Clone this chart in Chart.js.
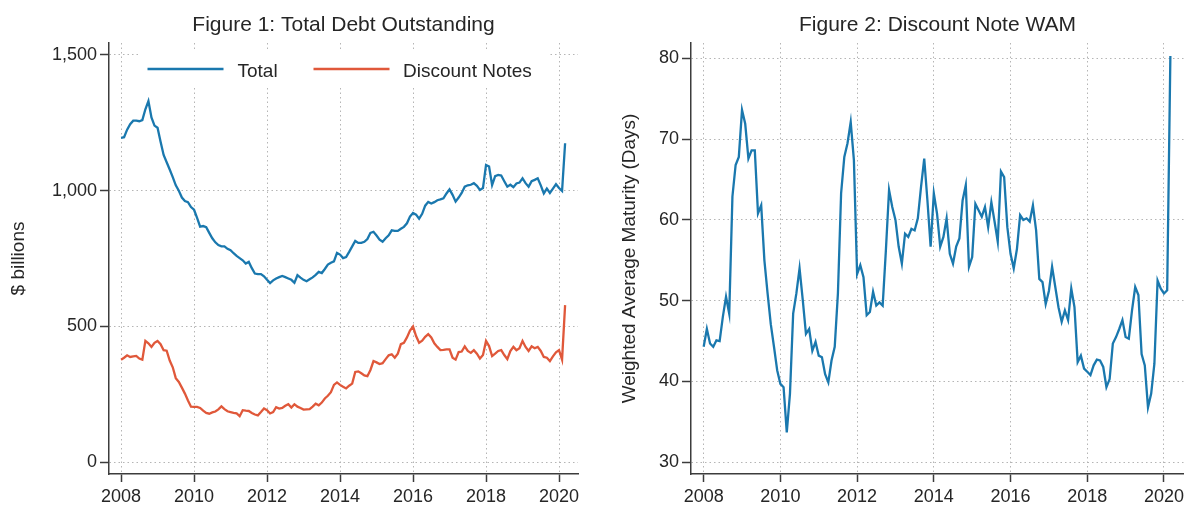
<!DOCTYPE html>
<html>
<head>
<meta charset="utf-8">
<script src="https://cdn.jsdelivr.net/npm/chart.js@4"></script>
<style>
  html, body { margin: 0; padding: 0; background: #fff; overflow: hidden; }
  #wrap { position: relative; width: 1188px; height: 508px; }
  .panel { position: absolute; top: 0; width: 594px; height: 508px; }
  #panel-debt { left: 0; }
  #panel-wam { left: 594px; }
</style>
</head>
<body>
<div id="wrap">
  <div class="panel" id="panel-debt"><canvas id="chart-debt"></canvas></div>
  <div class="panel" id="panel-wam"><canvas id="chart-wam"></canvas></div>
</div>
<script>
// monthly observations, Jan 2008 - Mar 2020
const startYear = 2008;
const xTicks = [2008, 2010, 2012, 2014, 2016, 2018, 2020];
const debtTicks = [0, 500, 1000, 1500];
const wamTicks = [30, 40, 50, 60, 70, 80];

// Figure 1 ($ billions)
const totalDebt = [
  1195, 1197, 1225, 1245, 1258, 1258, 1256, 1260, 1300, 1330, 1270, 1240,
  1232, 1180, 1132, 1105, 1078, 1050, 1020, 1000, 975, 962, 958, 940,
  930, 900, 868, 870, 866, 845, 825, 810, 800, 795, 795, 786,
  781, 770, 760, 752, 744, 732, 738, 715, 695, 693, 693, 685,
  672, 660, 670, 677, 682, 686, 682, 677, 672, 661, 689, 680,
  672, 667, 674, 681, 690, 701, 697, 712, 728, 735, 740, 771,
  765, 752, 756, 775, 795, 815, 808, 808, 812, 822, 845, 849,
  835, 820, 812, 825, 836, 854, 852, 852, 860, 867, 880, 905,
  918, 912, 897, 915, 945, 959, 953, 958, 965, 968, 972, 990,
  1005, 985, 960, 975, 992, 1015, 1020, 1022, 1028, 1018, 1003, 1010,
  1095, 1089, 1021, 1054, 1058, 1056, 1035, 1015, 1022, 1013, 1027, 1030,
  1046, 1028, 1015, 1035, 1040, 1046, 1020, 990, 1008, 992, 1008, 1024,
  1010, 999, 1175,
];
const discountNotes = [
  378, 385, 394, 388, 390, 392, 382, 378, 447, 438, 425, 440,
  447, 435, 413, 411, 375, 350, 310, 296, 275, 253, 228, 205,
  204, 204, 200, 190, 182, 179, 184, 187, 195, 206, 196, 188,
  185, 182, 180, 170, 192, 190, 189, 182, 176, 173, 185, 198,
  192, 180, 185, 203, 198, 200, 208, 214, 202, 214, 205, 200,
  194, 195, 196, 205, 216, 210, 220, 235, 245, 258, 285, 294,
  285, 278, 272, 282, 290, 333, 335, 328, 320, 317, 340, 373,
  368, 362, 365, 380, 394, 398, 385, 400, 435, 440, 460, 485,
  500, 465, 440, 448, 462, 472, 460, 438, 425, 413, 414, 416,
  416, 385, 378, 406, 408, 427, 410, 403, 413, 400, 382, 395,
  447, 428, 391, 400, 410, 413, 395, 380, 410, 425, 413, 420,
  447, 425, 410, 427, 420, 425, 410, 388, 385, 373, 390, 405,
  413, 378, 579,
];

// Figure 2 (days)
const wamDays = [
  44.3, 46.5, 44.7, 44.3, 45.1, 45.0, 48.0, 50.5, 48.4, 62.9, 66.8, 67.8,
  73.6, 71.9, 67.6, 68.6, 68.6, 60.8, 61.8, 55.0, 50.9, 47.1, 44.3, 41.4,
  39.7, 39.3, 33.7, 38.5, 48.4, 50.9, 54.0, 50.1, 45.9, 46.5, 43.8, 44.9,
  43.2, 43.0, 40.9, 39.9, 42.6, 44.3, 50.9, 63.3, 67.8, 69.5, 72.1, 67.4,
  53.3, 54.4, 52.9, 48.2, 48.6, 51.1, 49.4, 49.8, 49.4, 56.2, 63.7, 61.6,
  60.0, 56.7, 54.6, 58.3, 57.9, 58.9, 58.7, 60.2, 64.1, 67.6, 62.4, 56.7,
  63.3, 60.8, 56.7, 57.9, 60.2, 55.8, 54.6, 56.7, 57.7, 62.4, 64.3, 54.2,
  55.4, 62.0, 61.2, 60.4, 61.6, 59.1, 62.2, 59.8, 57.3, 66.0, 65.3, 59.1,
  55.8, 54.0, 56.4, 60.6, 60.0, 60.2, 59.8, 61.8, 58.7, 52.7, 52.3, 49.6,
  51.2, 54.2, 51.7, 49.2, 47.4, 48.8, 47.6, 51.5, 49.2, 42.4, 43.2, 41.6,
  41.2, 40.8, 42.0, 42.7, 42.6, 41.8, 39.3, 40.3, 44.7, 45.5, 46.5, 47.6,
  45.5, 45.3, 48.8, 51.7, 50.7, 43.4, 42.0, 36.8, 38.5, 42.2, 52.5, 51.5,
  50.9, 51.3, 80.3,
];

const FONT = "'Liberation Sans', Arial, sans-serif";
const INK = '#262626';
const AXIS = '#3c3c3c';
const GRID = '#b5b5b5';
const BLUE = '#1a78ae';
const ORANGE = '#e0583a';

// 月次 → 小数年
const toPoints = (arr) => arr.map((v, i) => ({ x: startYear + i / 12, y: v }));

// タイトルはプロット領域の中央に置く
const panelTitle = {
  id: 'panelTitle',
  afterDraw(chart, args, opts) {
    const { ctx, chartArea } = chart;
    ctx.save();
    ctx.font = '21px ' + FONT;
    ctx.fillStyle = INK;
    ctx.textAlign = 'center';
    ctx.textBaseline = 'alphabetic';
    ctx.fillText(opts.text, (chartArea.left + chartArea.right) / 2, 31);
    ctx.restore();
  },
};

// 凡例（白背景でグリッドを隠す）
const lineLegend = {
  id: 'lineLegend',
  afterDraw(chart) {
    const ctx = chart.ctx;
    const slots = [[147.5, 237.5], [313.5, 403]];
    ctx.save();
    ctx.fillStyle = '#fff';
    ctx.fillRect(140, 49, 408, 38);
    ctx.font = '19px ' + FONT;
    ctx.textBaseline = 'alphabetic';
    chart.data.datasets.forEach((ds, i) => {
      const [lx, tx] = slots[i];
      ctx.strokeStyle = ds.borderColor;
      ctx.lineWidth = 2.4;
      ctx.beginPath();
      ctx.moveTo(lx, 69);
      ctx.lineTo(lx + 76, 69);
      ctx.stroke();
      ctx.fillStyle = INK;
      ctx.fillText(ds.label, tx, 77);
    });
    ctx.restore();
  },
};

function xAxis() {
  return {
    type: 'linear',
    min: 2007.67,
    max: 2020.52,
    afterBuildTicks: (s) => { s.ticks = xTicks.map((v) => ({ value: v })); },
    afterFit: (s) => { s.height = 34; },
    ticks: {
      color: INK, font: { family: FONT, size: 18 }, padding: 4,
      maxRotation: 0, autoSkip: false, callback: (v) => String(v),
    },
    grid: { color: GRID, lineWidth: 1, tickLength: 8, tickColor: AXIS, tickWidth: 1.5 },
    border: { display: true, color: AXIS, width: 1.5, dash: [1.5, 3] },
  };
}

function yAxis(min, max, ticks, width, title, titlePad, fmt) {
  return {
    min, max,
    afterBuildTicks: (s) => { s.ticks = ticks.map((v) => ({ value: v })); },
    afterFit: (s) => { s.width = width; },
    ticks: { color: INK, font: { family: FONT, size: 18 }, padding: 3, callback: fmt },
    title: {
      display: true, text: title, color: INK,
      font: { family: FONT, size: 19 }, padding: { top: titlePad, bottom: 0 },
    },
    grid: { color: GRID, lineWidth: 1, tickLength: 9, tickColor: AXIS, tickWidth: 1.5 },
    border: { display: true, color: AXIS, width: 1.5, dash: [1.5, 3] },
  };
}

const lineStyle = { pointRadius: 0, borderWidth: 2.3, tension: 0, fill: false };

new Chart(document.getElementById('chart-debt'), {
  type: 'line',
  data: {
    datasets: [
      { label: 'Total', data: toPoints(totalDebt), borderColor: BLUE, ...lineStyle },
      { label: 'Discount Notes', data: toPoints(discountNotes), borderColor: ORANGE, ...lineStyle },
    ],
  },
  options: {
    responsive: true,
    maintainAspectRatio: false,
    animation: false,
    layout: { padding: { top: 43, right: 16, left: 0, bottom: 0 } },
    plugins: {
      legend: { display: false },
      tooltip: { enabled: false },
      panelTitle: { text: 'Figure 1: Total Debt Outstanding' },
    },
    scales: {
      x: xAxis(),
      y: yAxis(-43, 1544, debtTicks, 109, '$ billions', 7, (v) => v.toLocaleString('en-US')),
    },
  },
  plugins: [panelTitle, lineLegend],
});

new Chart(document.getElementById('chart-wam'), {
  type: 'line',
  data: {
    datasets: [
      { label: 'WAM', data: toPoints(wamDays), borderColor: BLUE, ...lineStyle },
    ],
  },
  options: {
    responsive: true,
    maintainAspectRatio: false,
    animation: false,
    layout: { padding: { top: 43, right: 0, left: 0, bottom: 0 } },
    plugins: {
      legend: { display: false },
      tooltip: { enabled: false },
      panelTitle: { text: 'Figure 2: Discount Note WAM' },
    },
    scales: {
      x: xAxis(),
      y: yAxis(28.55, 81.9, wamTicks, 97, 'Weighted Average Maturity (Days)', 24.5, (v) => String(v)),
    },
  },
  plugins: [panelTitle],
});
</script>
</body>
</html>
